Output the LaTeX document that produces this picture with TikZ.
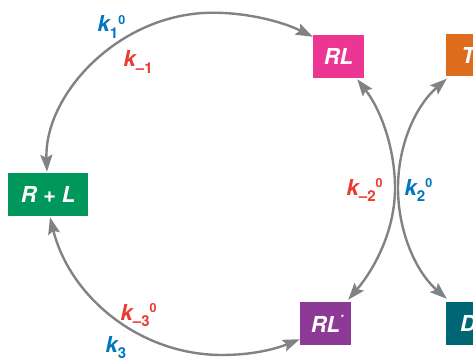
\documentclass[tikz,border=0pt]{standalone}
\usepackage{fontspec}
\setmainfont{TeX Gyre Heros}
\usetikzlibrary{arrows.meta,calc}

\definecolor{cgreen}{RGB}{0,152,90}
\definecolor{cpink}{RGB}{236,54,148}
\definecolor{corange}{RGB}{222,108,29}
\definecolor{cpurple}{RGB}{141,58,150}
\definecolor{cteal}{RGB}{0,102,116}
\definecolor{linkgray}{RGB}{128,130,133}
\definecolor{rateblue}{RGB}{0,120,192}
\definecolor{ratered}{RGB}{232,60,52}

% rate constant: k with subscript and superscript
\newcommand\rate[2]{k\raisebox{-6.5pt}{\upshape\fontsize{15}{15}\selectfont #1}\raisebox{7.5pt}{\upshape\fontsize{12.5}{12.5}\selectfont #2}}

\tikzset{
  box/.style={rectangle, inner sep=0pt, minimum height=43pt, text=white,
    font=\fontsize{22}{22}\selectfont\bfseries\itshape},
  link/.style={draw=linkgray, line width=2.4pt, {Stealth[length=17pt,width=12pt,inset=3pt]}-{Stealth[length=17pt,width=12pt,inset=3pt]}},
  ratelabel/.style={inner sep=0pt, anchor=base west,
    font=\fontsize{22}{22}\selectfont\bfseries\itshape},
}

\begin{document}
\begin{tikzpicture}[x=1pt, y=-1pt]
\useasboundingbox (0,0) rectangle (473,358);

% species
\node[box, fill=cgreen, minimum width=80pt] (RpL) at (48,194.5) {R + L};
\node[box, fill=cpink, minimum width=51pt] (RL) at (338.5,56.5) {RL};
\node[box, fill=cpurple, minimum width=51pt] (RLs) at (325.5,323.5)
  {RL\rlap{\raisebox{0.5em}{\fontsize{9}{9}\selectfont *}}};
\node[box, fill=corange, minimum width=44pt, minimum height=42pt] (T) at (468,55.5) {T};
\node[box, fill=cteal, minimum width=44pt] (D) at (468,323.5) {D};

% turning points of the arcs
\coordinate (topapex) at (213,12.7);
\coordinate (botapex) at (222,355);
\coordinate (rapex) at (395,188);
\coordinate (lapex) at (398,188);

% reversible transitions
\draw[link] ($(RL.north west)+(0,2)$) .. controls +(-30,-15) and +(35,0) .. (topapex)
  .. controls +(-94,0) and +(-3,-77) .. ($(RpL.north)+(-1,-1)$);
\draw[link] ($(RpL.south)+(2,1)$) .. controls +(20,80) and +(-82,0) .. (botapex)
  .. controls +(30,0) and +(-25,10) .. ($(RLs.south west)+(0,-6)$);
\draw[link] ($(RL.south east)+(-7,1)$) .. controls +(24,31) and +(0,-39) .. (rapex)
  .. controls +(0,42) and +(27,-32) .. ($(RLs.north east)+(-3,-2)$);
\draw[link] ($(T.south west)+(1,2)$) .. controls +(-32,28) and +(0,-42) .. (lapex)
  .. controls +(0,42) and +(-32,-28) .. ($(D.north west)+(1,-3)$);

% rate constants
\node[ratelabel, text=rateblue] (k1) at (97.5,32) {\rate{1}{0}};
\node[ratelabel, text=ratered] (km1) at (123.5,67) {\rate{–1}{}};
\node[ratelabel, text=ratered] (km2) at (346.5,195) {\rate{–2}{0}};
\node[ratelabel, text=rateblue] (k2) at (404.5,195) {\rate{2}{0}};
\node[ratelabel, text=ratered] (km3) at (120.5,320) {\rate{–3}{0}};
\node[ratelabel, text=rateblue] (k3) at (105.5,352) {\rate{3}{}};
\end{tikzpicture}
\end{document}
